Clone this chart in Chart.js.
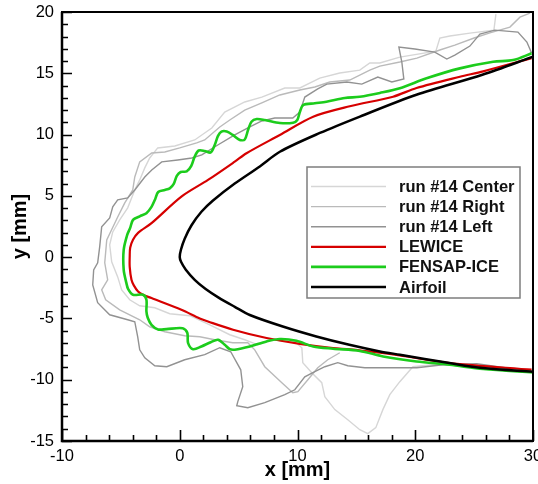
<!DOCTYPE html>
<html>
<head>
<meta charset="utf-8">
<script src="https://cdn.jsdelivr.net/npm/chart.js@4.4.0/dist/chart.umd.min.js"></script>
<style>
  html, body { margin: 0; padding: 0; background: #fff; }
</style>
</head>
<body>
<canvas id="chart" width="538" height="484"></canvas>
<script>
// ice shape contours, [x mm, y mm]
const runCenter = [[26.85,19.83],[26.68,18.52],[24.64,18.28],[22.94,18.04],[22.09,17.87],[21.75,16.81],[18.69,16.32],[16.99,15.84],[16.14,15.84],[15.29,15.26],[13.59,15.02],[11.89,14.61],[10.2,13.8],[8.92,13.8],[6.97,13.06],[5.52,12.66],[3.82,11.84],[2.72,10.54],[1.27,9.56],[-0.42,9.07],[-1.87,8.91],[-2.55,8.09],[-2.97,7.28],[-3.4,6.3],[-3.82,5.48],[-4.42,4.02],[-5.1,3.04],[-5.69,2.06],[-5.95,1.0],[-5.78,-0.38],[-5.27,-1.61],[-4.93,-2.67],[-4.25,-3.48],[-3.4,-3.97],[-2.12,-4.13],[-0.85,-4.62],[0.85,-4.78],[2.55,-5.52],[4.25,-6.33],[5.52,-6.74],[6.63,-7.15],[7.82,-6.74],[9.77,-6.9],[10.37,-7.39],[10.45,-8.61],[11.21,-9.43],[12.06,-10.24],[12.32,-11.39],[13.17,-12.44],[14.27,-13.26],[15.29,-14.08],[15.97,-14.4],[16.65,-13.91],[17.25,-12.44],[17.84,-11.22],[18.69,-10.16],[19.8,-8.94],[21.5,-8.78],[24.64,-8.86],[29.99,-9.35]]

const runRight = [[29.74,19.91],[28.89,19.58],[28.04,18.77],[26.34,18.3],[25.06,17.9],[23.36,17.3],[22.09,16.9],[20.14,16.24],[18.69,15.92],[16.99,15.59],[16.14,15.26],[14.44,14.45],[12.74,14.29],[11.47,13.88],[10.2,13.64],[8.5,13.23],[6.97,12.58],[5.52,12.0],[4.25,11.19],[3.4,10.62],[2.12,9.56],[1.44,9.32],[0,8.91],[-1.27,8.58],[-2.38,8.5],[-3.4,7.77],[-3.82,6.54],[-3.99,5.48],[-4.67,4.43],[-5.27,3.28],[-6.2,1.41],[-6.37,-0.46],[-6.12,-1.85],[-6.63,-2.67],[-6.29,-3.48],[-5.1,-4.3],[-3.4,-5.11],[-2.55,-5.68],[-1.27,-6.09],[0.42,-6.41],[1.7,-6.5],[2.97,-6.74],[4.5,-6.98],[5.78,-6.98],[6.37,-7.56],[7.22,-8.94],[8.67,-10.24],[9.6,-11.06],[10.03,-10.98],[10.88,-10.0],[11.72,-9.02],[12.57,-8.37],[13.59,-7.8]]

const runLeft = [[29.88,16.65],[29.48,17.55],[28.72,18.36],[26.76,18.52],[25.49,18.2],[24.64,17.22],[23.36,16.49],[22.68,16.16],[21.66,16.73],[19.97,16.98],[18.61,17.14],[18.86,15.92],[19.03,14.53],[18.01,14.29],[16.82,14.69],[15.46,14.12],[14.19,14.29],[12.49,14.12],[11.72,13.72],[10.62,13.06],[10.2,11.84],[9.6,11.35],[8.07,11.35],[6.97,11.11],[5.95,10.62],[4.67,9.97],[3.23,9.15],[1.87,8.34],[1.02,8.09],[-0.17,7.93],[-1.53,7.77],[-2.38,7.11],[-2.97,6.54],[-3.82,5.48],[-4.42,4.83],[-5.27,4.67],[-5.69,4.1],[-5.95,3.2],[-6.63,2.47],[-6.8,0.84],[-6.97,-0.46],[-7.31,-1.04],[-7.39,-2.26],[-6.97,-3.72],[-5.95,-4.7],[-4.42,-5.11],[-3.82,-5.27],[-3.57,-6.5],[-3.4,-7.56],[-2.97,-8.21],[-2.12,-8.86],[-1.1,-8.94],[0.42,-8.37],[2.12,-7.96],[3.4,-7.39],[4.33,-7.72],[5.18,-9.19],[5.35,-10.57],[4.93,-11.79],[4.84,-12.12],[5.78,-12.28],[7.22,-11.87],[8.92,-11.22],[9.77,-10.82],[10.62,-9.76],[11.47,-9.35],[12.32,-8.94],[13.42,-8.61],[14.27,-8.86],[15.72,-9.02],[17.42,-9.02],[20.14,-9.02],[22.34,-8.78],[25.23,-8.7],[29.99,-9.35]]

const lewice = [[29.88,-9.18],[22.94,-8.64],[18.69,-8.02],[16.99,-7.8],[14.44,-7.52],[13.02,-7.42],[10.2,-7.07],[7.37,-6.6],[4.53,-5.92],[2.4,-5.25],[1.7,-5.0],[0.14,-4.29],[-2.4,-3.34],[-3.12,-3.07],[-3.54,-2.8],[-3.9,-2.3],[-4.1,-1.85],[-4.25,-0.8],[-4.25,0.05],[-4.21,0.76],[-3.97,1.41],[-3.54,1.98],[-2.4,2.77],[0.14,4.94],[2.4,6.3],[4.67,7.79],[5.67,8.48],[8.5,9.97],[11.33,11.46],[14.44,12.31],[18.12,13.09],[20.11,13.8],[23.79,14.72],[25.77,15.16],[29.88,16.24]]

const fensap = [[30.0,-9.41],[25.77,-9.13],[22.94,-8.78],[20.11,-8.51],[17.27,-8.1],[15.29,-7.65],[13.02,-7.47],[11.33,-7.29],[9.91,-6.82],[8.5,-6.68],[7.37,-6.88],[5.95,-7.29],[4.67,-7.55],[4.25,-7.51],[3.82,-7.15],[3.25,-6.74],[2.63,-6.94],[1.84,-7.29],[1.13,-7.51],[0.71,-7.01],[0.64,-6.17],[0.25,-5.8],[-1.13,-5.87],[-1.84,-5.9],[-2.4,-5.52],[-2.72,-4.95],[-2.83,-4.43],[-2.83,-3.48],[-3.12,-3.07],[-3.97,-3.07],[-4.39,-2.58],[-4.53,-2.12],[-4.76,-1.04],[-4.76,0.6],[-4.46,1.82],[-4.21,2.39],[-3.97,3.04],[-3.4,3.33],[-2.83,3.59],[-2.4,4.1],[-2.08,4.75],[-1.83,5.32],[-1.27,5.48],[-0.85,5.61],[-0.51,5.97],[-0.25,6.63],[0.08,6.95],[0.59,6.99],[0.98,7.44],[1.27,8.2],[1.61,8.7],[2.12,8.66],[2.63,8.54],[2.97,9.15],[3.25,9.89],[3.54,10.24],[3.99,10.25],[4.5,9.97],[5.1,9.56],[5.52,9.6],[5.8,10.37],[6.09,11.05],[6.54,11.27],[7.22,11.19],[8.5,10.95],[9.63,10.97],[9.98,11.19],[10.2,11.84],[10.48,12.41],[11.47,12.55],[12.46,12.68],[14.02,12.98],[15.29,13.09],[17.0,13.4],[18.69,13.78],[20.96,14.59],[23.79,15.4],[26.62,15.94],[28.32,16.08],[29.88,16.63]]

const airfoil = [[30,-9.35],[25.7,-9.05],[22.9,-8.64],[18.7,-7.96],[17.0,-7.69],[14.4,-7.15],[11.6,-6.47],[8.75,-5.66],[5.95,-4.72],[4.67,-4.05],[3.3,-3.3],[2.2,-2.6],[1.27,-1.85],[0.5,-1.0],[0.12,-0.4],[0,0],[0.1,0.6],[0.42,1.5],[1.0,2.6],[1.84,3.7],[2.8,4.6],[4.67,6.0],[6.8,7.4],[8.5,8.6],[11.9,10.13],[15.3,11.47],[20.1,13.25],[25.7,14.88],[30,16.35]]

const xTicks = [-10, 0, 10, 20, 30]
const yTicks = [-15, -10, -5, 0, 5, 10, 15, 20]
const legendNames = ["run #14 Center", "run #14 Right", "run #14 Left", "LEWICE", "FENSAP-ICE", "Airfoil"]

const FONT = '"Liberation Sans", Arial, sans-serif'

const line = (label, pts, color, width, order, tension) => ({
    label: label,
    data: pts.map((p) => ({ x: p[0], y: p[1] })),
    showLine: true,
    borderColor: color,
    borderWidth: width,
    pointRadius: 0,
    fill: false,
    tension: tension,
    order: order
})

// inward ticks + plot frame
const frameTicks = {
    id: "frameTicks",
    afterDatasetsDraw(chart) {
        const { ctx, chartArea: a, scales } = chart
        const x = scales.x, y = scales.y
        ctx.save()
        ctx.strokeStyle = "#000"
        ctx.lineWidth = 1.6
        ctx.beginPath()
        for (let v = x.min; v <= x.max; v += 2) {
            const px = Math.round(x.getPixelForValue(v)) + 0.5
            const len = xTicks.includes(v) ? 11 : 6
            ctx.moveTo(px, a.bottom)
            ctx.lineTo(px, a.bottom - len)
        }
        for (let v = y.min; v <= y.max; v += 1) {
            const py = Math.round(y.getPixelForValue(v)) + 0.5
            const len = yTicks.includes(v) ? 10 : 6
            ctx.moveTo(a.left, py)
            ctx.lineTo(a.left + len, py)
        }
        ctx.stroke()
        ctx.lineWidth = 2
        ctx.strokeRect(a.left, a.top, a.right - a.left, a.bottom - a.top)
        ctx.lineWidth = 2.5
        ctx.beginPath()
        ctx.moveTo(a.left, a.top)
        ctx.lineTo(a.left, a.bottom)
        ctx.lineTo(a.right, a.bottom)
        ctx.stroke()
        ctx.restore()
    }
}

const legendBox = {
    id: "legendBox",
    afterDraw(chart) {
        const ctx = chart.ctx
        const left = 307, top = 167, w = 213, h = 131
        ctx.save()
        ctx.fillStyle = "#fff"
        ctx.fillRect(left, top, w, h)
        ctx.strokeStyle = "#7d7d7d"
        ctx.lineWidth = 1.5
        ctx.strokeRect(left, top, w, h)
        ctx.font = "bold 16.5px " + FONT
        ctx.textBaseline = "middle"
        legendNames.forEach((name, i) => {
            const ds = chart.data.datasets.find((d) => d.label === name)
            const yy = top + 19.5 + i * 20.1
            ctx.strokeStyle = ds.borderColor
            ctx.lineWidth = ds.borderWidth
            ctx.beginPath()
            ctx.moveTo(left + 4, yy)
            ctx.lineTo(left + 79, yy)
            ctx.stroke()
            ctx.fillStyle = "#111"
            ctx.fillText(name, left + 92, yy + 1)
        })
        ctx.restore()
    }
}

const config = {
    type: "scatter",
    data: {
        datasets: [
            line("run #14 Center", runCenter, "#d6d6d6", 1.4, 6, 0),
            line("run #14 Right", runRight, "#bababa", 1.4, 5, 0),
            line("run #14 Left", runLeft, "#929292", 1.4, 4, 0),
            line("LEWICE", lewice, "#d60000", 2.2, 3, 0.3),
            line("FENSAP-ICE", fensap, "#1ccc1c", 2.6, 2, 0.3),
            line("Airfoil", airfoil, "#000000", 2.5, 1, 0.3)
        ]
    },
    options: {
        responsive: false,
        animation: false,
        events: [],
        devicePixelRatio: 1,
        layout: { padding: { top: 12, right: 5, left: 0, bottom: 0 } },
        plugins: { legend: { display: false }, tooltip: { enabled: false } },
        scales: {
            x: {
                type: "linear",
                min: -10,
                max: 30,
                afterBuildTicks: (s) => { s.ticks = xTicks.map((v) => ({ value: v })) },
                afterFit: (s) => { s.height = 43; s.paddingLeft = 0; s.paddingRight = 0 },
                grid: { display: false, drawTicks: false },
                border: { display: false },
                ticks: { color: "#000", font: { family: FONT, size: 16.5 }, padding: 6, maxRotation: 0, autoSkip: false },
                title: { display: true, text: "x [mm]", color: "#000", font: { family: FONT, size: 20, weight: "bold" }, padding: { top: 0, bottom: 2 } }
            },
            y: {
                type: "linear",
                min: -15,
                max: 20,
                afterBuildTicks: (s) => { s.ticks = yTicks.map((v) => ({ value: v })) },
                afterFit: (s) => { s.width = 62; s.paddingTop = 0; s.paddingBottom = 0 },
                grid: { display: false, drawTicks: false },
                border: { display: false },
                ticks: { color: "#000", font: { family: FONT, size: 16.5 }, padding: 8, autoSkip: false },
                title: { display: true, text: "y [mm]", color: "#000", font: { family: FONT, size: 20, weight: "bold" }, padding: { top: 8, bottom: 0 } }
            }
        }
    },
    plugins: [frameTicks, legendBox]
}

new Chart(document.querySelector("#chart"), config)
</script>
</body>
</html>
